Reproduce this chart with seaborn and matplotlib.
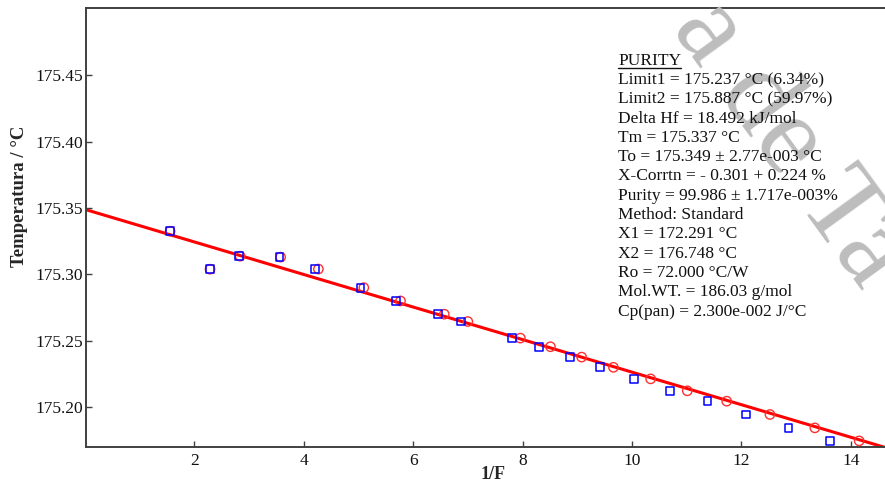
import matplotlib
matplotlib.use("Agg")
import matplotlib.pyplot as plt
import pandas as pd
import seaborn as sns

# 1/F y temperatura
inv_f_medido = [1.56, 2.29, 2.82, 3.56, 4.21, 5.04, 5.69, 6.45, 6.87, 7.81,
                8.30, 8.86, 9.41, 10.03, 10.69, 11.38, 12.09, 12.86, 13.62]
inv_f_corregido = [1.56, 2.29, 2.84, 3.58, 4.27, 5.10, 5.77, 6.57, 7.00, 7.96,
                   8.51, 9.08, 9.66, 10.34, 11.01, 11.73, 12.52, 13.34, 14.15]
temperatura = [175.3325, 175.3039, 175.3137, 175.3130, 175.3040, 175.2900,
               175.2800, 175.2700, 175.2645, 175.2520, 175.2455, 175.2377,
               175.2300, 175.2213, 175.2123, 175.2045, 175.1945, 175.1844,
               175.1746]

# recta de ajuste
ajuste_x = [0.0, 14.8]
ajuste_t = [175.349, 175.1675]

y_ticks = [175.20, 175.25, 175.30, 175.35, 175.40, 175.45]
x_ticks = [2, 4, 6, 8, 10, 12, 14]

info = [
    "PURITY",
    "Limit1 = 175.237 °C (6.34%)",
    "Limit2 = 175.887 °C (59.97%)",
    "Delta Hf = 18.492 kJ/mol",
    "Tm = 175.337 °C",
    "To = 175.349 ± 2.77e-003 °C",
    "X-Corrtn = - 0.301 + 0.224 %",
    "Purity = 99.986 ± 1.717e-003%",
    "Method: Standard",
    "X1 = 172.291 °C",
    "X2 = 176.748 °C",
    "Ro = 72.000 °C/W",
    "Mol.WT. = 186.03 g/mol",
    "Cp(pan) = 2.300e-002 J/°C",
]

df_med = pd.DataFrame({"x": inv_f_medido, "t": temperatura})
df_cor = pd.DataFrame({"x": inv_f_corregido, "t": temperatura})
df_fit = pd.DataFrame({"x": ajuste_x, "t": ajuste_t})

sns.set_theme(style="ticks")
plt.rcParams["font.family"] = ["Liberation Serif", "DejaVu Serif"]

W, H = 885, 483
fig = plt.figure(figsize=(W / 100, H / 100), dpi=100)
ax = fig.add_axes([86 / W, 1 - 447 / H, 806 / W, 439 / H])

sns.lineplot(data=df_fit, x="x", y="t", ax=ax, color="#ff0000", lw=2.2, zorder=2)
sns.scatterplot(data=df_cor, x="x", y="t", ax=ax, marker="o", s=45,
                facecolor="none", edgecolor="#ff3030", linewidth=1.0, zorder=3)
sns.scatterplot(data=df_med, x="x", y="t", ax=ax, marker="s", s=32,
                facecolor="none", edgecolor="#0000ff", linewidth=1.1, zorder=4)

ax.set_xlim(0.024, 14.75)
ax.set_ylim(175.170, 175.5006)
ax.set_xticks(x_ticks)
ax.set_xticklabels([str(v) for v in x_ticks])
ax.set_yticks(y_ticks)
ax.set_yticklabels([f"{v:.2f}" for v in y_ticks])

for s in ax.spines.values():
    s.set_color("#404040")
    s.set_linewidth(1.4)
ax.tick_params(direction="in", length=4, width=1, color="#404040",
               labelsize=12.5, labelcolor="#111111", pad=2)
ax.tick_params(axis="x", pad=4)

ax.set_xlabel("1/F", fontsize=13, fontweight="bold")
ax.set_ylabel("Temperatura / °C", fontsize=13.5, fontweight="bold")
ax.xaxis.set_label_coords(0.505, -0.043)
ax.yaxis.set_label_coords(-0.072, 0.57)

# marca de agua
fig.text(0.758, 0.942, "a de Ta", rotation=-54, rotation_mode="anchor",
         ha="left", va="baseline", fontsize=82, color="#bdbdbd", zorder=1)

# bloque de resultados
for i, linea in enumerate(info):
    yp = 60.7 + i * 19.3
    t = fig.text(618 / W, 1 - yp / H, linea, fontsize=12.5, ha="left",
                 va="center", color="#111111", zorder=5)
    if i == 0:
        fig.canvas.draw()
        bb = t.get_window_extent()
        fig.add_artist(plt.Line2D([bb.x0 / W, bb.x1 / W],
                                  [(bb.y0 + 1) / H, (bb.y0 + 1) / H],
                                  color="#111111", lw=1))

fig.savefig("out.png", dpi=100)
